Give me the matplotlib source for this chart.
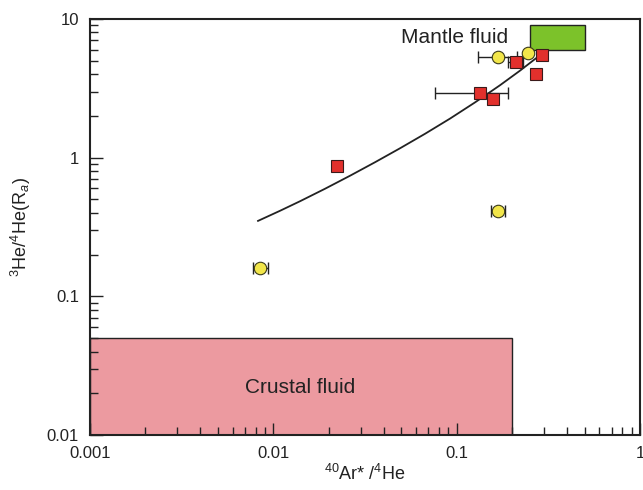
#!/usr/bin/env python
"""He-Ar isotope plot: mantle vs crustal fluid end members."""

import matplotlib
matplotlib.use('Agg')
import matplotlib.pyplot as plt
import matplotlib.patches as mpatches
import matplotlib.ticker as mticker

# red squares
sq_x = [0.0223, 0.134, 0.158, 0.211, 0.292, 0.271]
sq_y = [0.87, 2.93, 2.65, 4.9, 5.5, 4.0]
sq_xlo = [None, 0.076, None, 0.19, None, None]
sq_xhi = [None, 0.19, None, 0.23, None, None]

# yellow circles
ci_x = [0.168, 0.245, 0.168, 0.00845]
ci_y = [5.3, 5.7, 0.41, 0.16]
ci_xlo = [0.131, None, 0.153, 0.0077]
ci_xhi = [0.213, None, 0.183, 0.0093]

# mixing curve
mix_x = [0.00825, 0.01088, 0.01398, 0.01915, 0.02621, 0.03587, 0.04911,
         0.06723, 0.09204, 0.1260, 0.1725, 0.2218, 0.2780]
mix_y = [0.350, 0.414, 0.485, 0.597, 0.741, 0.927, 1.169,
         1.487, 1.914, 2.505, 3.332, 4.246, 5.348]

# end member boxes (x0, x1, y0, y1)
mantle_box = (0.25, 0.5, 6.0, 9.0)
crust_box = (0.001, 0.2, 0.01, 0.05)

xticks = [0.001, 0.01, 0.1, 1]
xticklabels = ['0.001', '0.01', '0.1', '1']
yticks = [0.01, 0.1, 1, 10]
yticklabels = ['0.01', '0.1', '1', '10']


def main():
    plt.rcParams['font.family'] = ['Liberation Sans', 'DejaVu Sans']
    plt.rcParams['mathtext.fontset'] = 'custom'
    plt.rcParams['mathtext.rm'] = 'Liberation Sans'
    plt.rcParams['mathtext.it'] = 'Liberation Sans:italic'

    fig = plt.figure(figsize=(6.43, 4.90), dpi=100)
    ax = fig.add_axes([90/643, 55/490, 550/643, 416/490])
    ax.set_xscale('log')
    ax.set_yscale('log')
    ax.set_xlim(0.001, 1)
    ax.set_ylim(0.01, 10)

    # end member boxes
    x0, x1, y0, y1 = crust_box
    ax.add_patch(mpatches.Rectangle(
        (x0, y0), x1-x0, y1-y0, facecolor='#ec9aa0', edgecolor='#222222',
        linewidth=1.0, zorder=1))
    x0, x1, y0, y1 = mantle_box
    ax.add_patch(mpatches.Rectangle(
        (x0, y0), x1-x0, y1-y0, facecolor='#7cc22a', edgecolor='#222222',
        linewidth=1.0, zorder=3))
    ax.text(0.0140, 0.0219, 'Crustal fluid', fontsize=15, ha='center',
            va='center', color='#222222', zorder=4)
    ax.text(0.098, 7.4, 'Mantle fluid', fontsize=15, ha='center',
            va='center', color='#222222', zorder=4)

    # mixing curve
    ax.plot(mix_x, mix_y, color='#222222', linewidth=1.3, zorder=2,
            solid_joinstyle='round')

    # error bars
    for xs, ys, lo, hi in ((sq_x, sq_y, sq_xlo, sq_xhi),
                           (ci_x, ci_y, ci_xlo, ci_xhi)):
        for x, y, a, b in zip(xs, ys, lo, hi):
            if a is None:
                continue
            ax.errorbar([x], [y], xerr=[[x-a], [b-x]], fmt='none',
                        ecolor='#222222', elinewidth=1.0, capsize=4,
                        capthick=1.0, zorder=4)

    # markers
    ax.plot(sq_x, sq_y, ls='none', marker='s', markersize=9,
            markerfacecolor='#e2302c', markeredgecolor='#3a1a1a',
            markeredgewidth=0.8, zorder=5)
    ax.plot(ci_x, ci_y, ls='none', marker='o', markersize=9,
            markerfacecolor='#f2e64a', markeredgecolor='#3a3a1a',
            markeredgewidth=0.8, zorder=6)

    # axes decorations
    ax.xaxis.set_major_locator(mticker.FixedLocator(xticks))
    ax.xaxis.set_major_formatter(mticker.FixedFormatter(xticklabels))
    ax.yaxis.set_major_locator(mticker.FixedLocator(yticks))
    ax.yaxis.set_major_formatter(mticker.FixedFormatter(yticklabels))
    ax.xaxis.set_minor_locator(mticker.LogLocator(subs=range(2, 10)))
    ax.yaxis.set_minor_locator(mticker.LogLocator(subs=range(2, 10)))
    ax.xaxis.set_minor_formatter(mticker.NullFormatter())
    ax.yaxis.set_minor_formatter(mticker.NullFormatter())
    ax.tick_params(which='both', direction='in', colors='#222222',
                   labelsize=12, width=1.0)
    ax.tick_params(which='major', length=9, pad=8)
    ax.tick_params(which='minor', length=6)
    for s in ax.spines.values():
        s.set_linewidth(1.5)
        s.set_color('#222222')

    ax.set_xlabel(r'$^{40}$Ar* /$^{4}$He', fontsize=13, color='#222222',
                  labelpad=2)
    ax.set_ylabel(r'$^{3}$He/$^{4}$He(R$_{a}$)', fontsize=13,
                  color='#222222', labelpad=10)

    fig.savefig('out.png', dpi=100)


if __name__ == '__main__':
    main()
